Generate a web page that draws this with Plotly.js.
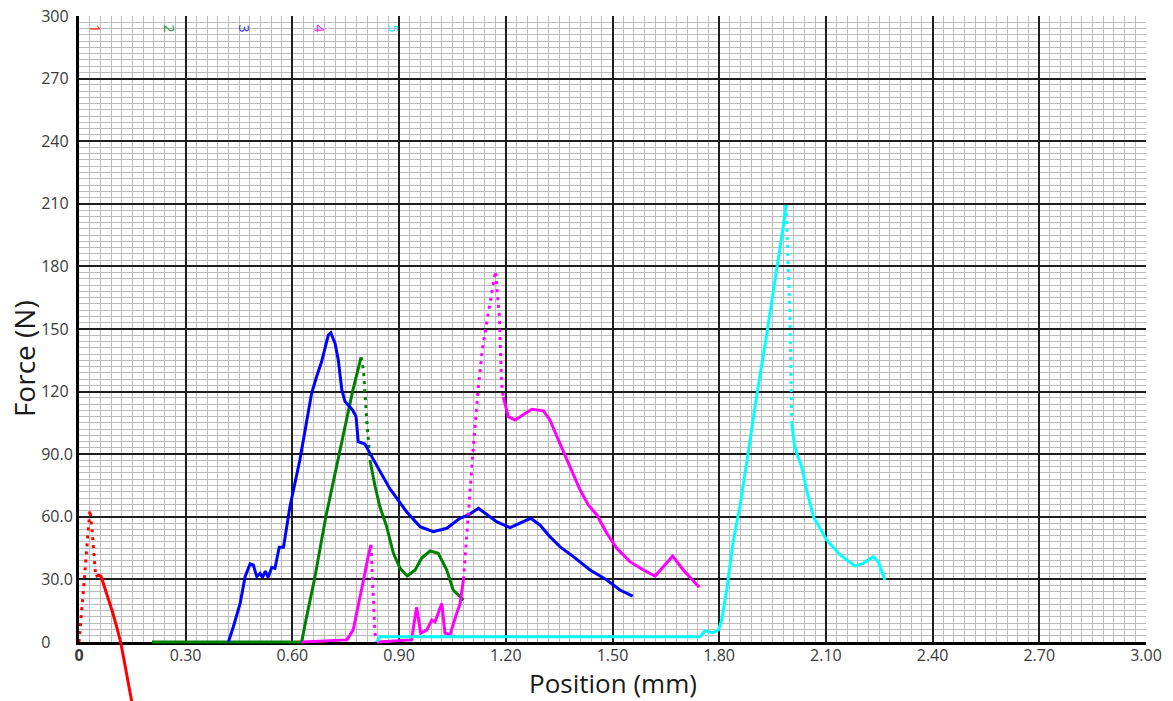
<!DOCTYPE html>
<html>
<head>
<meta charset="utf-8">
<script src="https://cdn.plot.ly/plotly-3.0.1.min.js"></script>
<style>html,body{margin:0;padding:0;background:#fff;}#chart{width:1173px;height:701px;}</style>
</head>
<body>
<div id="chart"></div>
<script>
// ---- Data (Position in mm, Force in N) ----
const redX = [0, 0.008, 0.016, 0.024, 0.031, 0.036, 0.041, 0.047, 0.055, 0.062, 0.072, 0.082, 0.094, 0.106, 0.117, 0.126, 0.134, 0.141, 0.148, 0.152];
const redY = [0, 15, 32, 50, 63.3, 55, 42, 31.3, 32, 31.5, 26.5, 21.6, 14.5, 7.3, 0, -8, -14.9, -21.5, -28.3, -32];

const greenX = [0.205, 0.626, 0.638, 0.662, 0.694, 0.732, 0.769, 0.793, 0.800, 0.809, 0.818, 0.832, 0.846, 0.865, 0.884, 0.903, 0.923, 0.945, 0.963, 0.987, 1.010, 1.034, 1.052, 1.081];
const greenY = [0, 0, 10.5, 30, 60, 90, 120, 136.4, 130, 106.4, 87.2, 75, 64.8, 55.3, 42.5, 35.3, 31.6, 34.5, 40.1, 43.6, 42.5, 34.5, 24.9, 20.1];

const blueX = [0.420, 0.434, 0.453, 0.467, 0.481, 0.490, 0.500, 0.509, 0.516, 0.524, 0.532, 0.542, 0.551, 0.563, 0.575, 0.593, 0.621, 0.654, 0.668, 0.682, 0.701, 0.708, 0.720, 0.729, 0.739, 0.748, 0.769, 0.779, 0.785, 0.804, 0.818, 0.874, 0.921, 0.959, 0.996, 1.034, 1.071, 1.095, 1.123, 1.174, 1.212, 1.240, 1.270, 1.296, 1.324, 1.352, 1.390, 1.437, 1.484, 1.521, 1.557];
const blueY = [0, 7.3, 18.5, 31.3, 37.4, 36.9, 31.3, 32.9, 31.0, 34.0, 31.0, 35.8, 35.3, 45.4, 45.4, 64.8, 87.2, 119.2, 127.1, 134.3, 147.1, 148.2, 143.1, 135.1, 120.8, 115.2, 111.2, 108, 96, 94.9, 90.4, 73.5, 62.4, 55.3, 52.9, 54.5, 59.3, 60.9, 64.1, 57.7, 54.8, 56.9, 59.3, 56.1, 50.5, 45.7, 40.9, 34.5, 29.7, 24.9, 22.0];

const magentaX = [0.626, 0.753, 0.771, 0.785, 0.800, 0.813, 0.821, 0.826, 0.832, 0.838, 0.935, 0.949, 0.961, 0.978, 0.992, 1.001, 1.020, 1.029, 1.043, 1.062, 1.071, 1.081, 1.094, 1.108, 1.122, 1.134, 1.148, 1.160, 1.171, 1.182, 1.188, 1.193, 1.207, 1.226, 1.248, 1.273, 1.306, 1.324, 1.352, 1.380, 1.409, 1.432, 1.456, 1.484, 1.512, 1.549, 1.587, 1.620, 1.643, 1.669, 1.699, 1.744];
const magentaY = [0, 1, 5.8, 16.9, 29.7, 40.9, 46.5, 25, 4.2, 0, 1, 16.6, 4.2, 5.8, 10.5, 9.7, 18.5, 4.2, 3.4, 13.8, 18, 30, 61.8, 92, 120.8, 140, 155, 168, 177.7, 155.9, 124, 117.5, 108, 106.4, 108.8, 111.5, 110.8, 106.4, 95.2, 84, 72.8, 65.7, 60.9, 52.1, 44.9, 38.5, 34.5, 31.6, 36.1, 41.2, 34.5, 26.2];

const cyanX = [0.837, 0.846, 1.746, 1.760, 1.783, 1.798, 1.807, 1.821, 1.840, 1.858, 1.877, 1.905, 1.934, 1.962, 1.980, 1.988, 1.994, 1.999, 2.004, 2.011, 2.018, 2.032, 2.046, 2.065, 2.102, 2.140, 2.182, 2.205, 2.233, 2.247, 2.266];
const cyanY = [0, 2.5, 2.5, 5.4, 4.5, 5.8, 10.5, 24.9, 48.9, 64.8, 85.6, 117.5, 147.9, 178.3, 199, 209.4, 180, 155.9, 104.8, 95, 90.4, 84, 72.8, 60, 48.9, 41.7, 36.4, 37.7, 40.9, 38.5, 29.7];

const seriesNames = ['1', '2', '3', '4', '5'];
const labelX = [0.045, 0.253, 0.464, 0.675, 0.883];

const xTickVals = [0, 0.3, 0.6, 0.9, 1.2, 1.5, 1.8, 2.1, 2.4, 2.7, 3.0];
const xTickText = ['<b>0</b>', '0.30', '0.60', '0.90', '1.20', '1.50', '1.80', '2.10', '2.40', '2.70', '3.00'];
const yTickVals = [0, 30, 60, 90, 120, 150, 180, 210, 240, 270, 300];
const yTickText = ['0', '30.0', '60.0', '90.0', '120', '150', '180', '210', '240', '270', '300'];
const xTitle = 'Position (mm)';
const yTitle = 'Force (N)';

// ---- Styling / construction ----
const colors = ['#ff0000', '#008000', '#0000ff', '#ff00ff', '#00ffff'];
const labelColors = ['#ff2a2a', '#2a962a', '#2a2aff', '#ff1aff', '#1ae6ff'];
const allX = [redX, greenX, blueX, magentaX, cyanX];
const allY = [redY, greenY, blueY, magentaY, cyanY];
// index ranges drawn as sparse dots (steep sections)
const dottedRanges = [[[0, 7]], [[7, 10]], [], [[6, 9], [21, 31]], [[15, 18]]];

// pad y tick labels so they look left-aligned
function padLabel(t) {
  let s = t;
  const hasDot = t.indexOf('.') >= 0;
  const digits = t.replace('.', '').length;
  for (let i = digits; i < 3; i++) s += '\u2007';
  if (!hasDot) s += '\u2008';
  return s;
}

const traces = [];
allX.forEach((xs, k) => {
  const ys = allY[k];
  const ranges = dottedRanges[k];
  const solidY = ys.map((v, i) => ranges.some(r => i > r[0] && i < r[1]) ? null : v);
  traces.push({
    x: xs, y: solidY, type: 'scatter', mode: 'lines', xaxis: 'x2', yaxis: 'y2',
    line: {color: colors[k], width: 3}, connectgaps: false,
    hoverinfo: 'skip', showlegend: false
  });
  ranges.forEach(r => {
    traces.push({
      x: xs.slice(r[0], r[1] + 1), y: ys.slice(r[0], r[1] + 1), type: 'scatter', mode: 'lines',
      xaxis: 'x2', yaxis: 'y2', line: {color: colors[k], width: 3, dash: '3px,5px'},
      hoverinfo: 'skip', showlegend: false
    });
  });
});

const FIG_H = 701, PLOT_TOP = 16, ZERO_PX = 642;
const plotH = FIG_H - PLOT_TOP;
const yDomLow = (FIG_H - ZERO_PX) / plotH;
const y2Low = -300 * (FIG_H - ZERO_PX) / (ZERO_PX - PLOT_TOP);

const FONT = 'Open Sans, Noto Sans, sans-serif';
const tickFont = {family: FONT, size: 16, color: '#3a3a3a'};

const annotations = seriesNames.map((n, k) => ({
  x: labelX[k], y: 294, xref: 'x', yref: 'y', text: n, showarrow: false, textangle: 90,
  font: {family: FONT, size: 14, color: labelColors[k]}, xanchor: 'center', yanchor: 'middle'
}));
// axis titles, placed as in the reference
annotations.push({
  x: -0.0515, y: 135.6, xref: 'paper', yref: 'y', text: yTitle, showarrow: false, textangle: -90,
  font: {family: FONT, size: 28, color: '#1a1a1a'}, xanchor: 'center', yanchor: 'middle'
});
annotations.push({
  x: 0.5, y: 0, xref: 'paper', yref: 'paper', text: xTitle, showarrow: false,
  font: {family: FONT, size: 26, color: '#1a1a1a'}, xanchor: 'center', yanchor: 'bottom', yshift: -2
});

const layout = {
  width: 1173, height: 701,
  margin: {l: 79, r: 27, t: PLOT_TOP, b: 0, pad: 0},
  paper_bgcolor: '#ffffff', plot_bgcolor: 'rgba(0,0,0,0)',
  showlegend: false,
  xaxis: {
    domain: [0, 1], range: [0, 3], anchor: 'y', automargin: false,
    tickmode: 'array', tickvals: xTickVals, ticktext: xTickText, ticks: '', tickfont: tickFont,
    ticklabelstandoff: -3,
    showgrid: true, gridcolor: '#1e1e1e', gridwidth: 2,
    minor: {dtick: 0.03, showgrid: true, gridcolor: '#bcbcbc', gridwidth: 1},
    showline: true, linecolor: '#000000', linewidth: 2.5, zeroline: false,
    layer: 'below traces'
  },
  yaxis: {
    domain: [yDomLow, 1], range: [0, 300], anchor: 'x', automargin: false,
    tickmode: 'array', tickvals: yTickVals, ticktext: yTickText.map(padLabel), ticks: '', tickfont: tickFont,
    showgrid: true, gridcolor: '#1e1e1e', gridwidth: 2,
    minor: {dtick: 3, showgrid: true, gridcolor: '#bcbcbc', gridwidth: 1},
    showline: true, linecolor: '#000000', linewidth: 3, zeroline: false,
    layer: 'below traces'
  },
  xaxis2: {domain: [0, 1], range: [0, 3], anchor: 'y2', visible: false, showgrid: false, zeroline: false},
  yaxis2: {domain: [0, 1], range: [y2Low, 300], anchor: 'x2', visible: false, showgrid: false, zeroline: false},
  annotations: annotations
};

Plotly.newPlot('chart', traces, layout, {staticPlot: true, displayModeBar: false});
</script>
</body>
</html>
